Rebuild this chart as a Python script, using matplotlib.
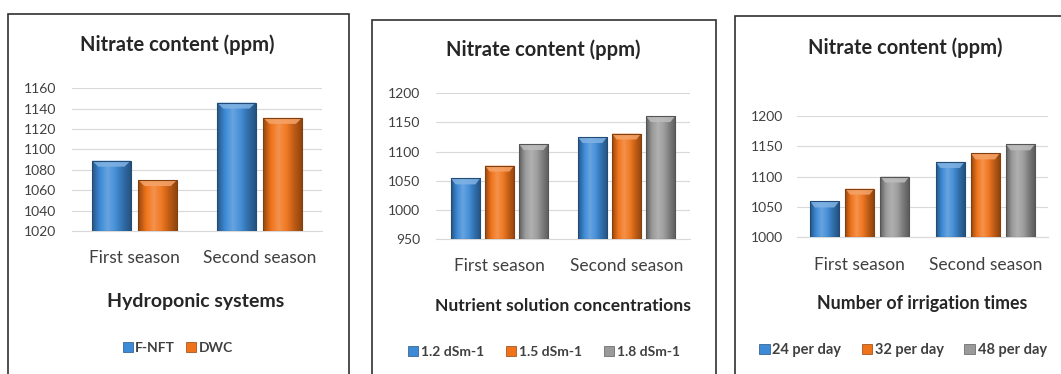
import numpy as np
import matplotlib
matplotlib.use("Agg")
import matplotlib.pyplot as plt
from matplotlib.patches import Rectangle, Polygon
from matplotlib.colors import LinearSegmentedColormap, to_rgb

# ---------------- data ----------------
seasons = ["First season", "Second season"]

p1_series = ["F-NFT", "DWC"]
p1_values = [[1089, 1146], [1070, 1131]]
p1_yticks = [1020, 1040, 1060, 1080, 1100, 1120, 1140, 1160]

p2_series = ["1.2 dSm-1", "1.5 dSm-1", "1.8 dSm-1"]
p2_values = [[1054, 1125], [1076, 1131], [1113, 1161]]
p2_yticks = [950, 1000, 1050, 1100, 1150, 1200]

p3_series = ["24 per day", "32 per day", "48 per day"]
p3_values = [[1059, 1124], [1080, 1138], [1100, 1153]]
p3_yticks = [1000, 1050, 1100, 1150, 1200]

title = "Nitrate content (ppm)"
xlabels = ["Hydroponic systems", "Nutrient solution concentrations", "Number of irrigation times"]

colors = ["#3d8ad6", "#f0731a", "#9a9a9a"]

plt.rcParams['font.family'] = ['Lato', 'DejaVu Sans']

W, H = 1061, 374
fig = plt.figure(figsize=(W / 100, H / 100), dpi=100)


def fx(px):
    return px / W


def fy(py):
    return 1 - py / H


def add_axes(x0, x1, ytop, ybot):
    return fig.add_axes([fx(x0), fy(ybot), fx(x1 - x0), (ybot - ytop) / H])


def shade(c, f):
    r = np.array(to_rgb(c))
    if f < 1:
        return tuple(r * f)
    return tuple(r + (1 - r) * (f - 1))


def gradient_bars(ax, bars, color, bevel_data):
    cmap = LinearSegmentedColormap.from_list(
        "g", [shade(color, 0.62), shade(color, 1.0), shade(color, 1.22),
              shade(color, 1.05), shade(color, 0.8), shade(color, 0.6)])
    prof = np.linspace(0, 1, 64)[None, :]
    for p in bars:
        x0, y0 = p.get_x(), p.get_y()
        w, h = p.get_width(), p.get_height()
        im = ax.imshow(prof, cmap=cmap, extent=[x0, x0 + w, y0, y0 + h],
                       aspect='auto', zorder=3, interpolation='bilinear')
        im.set_clip_path(p)
        # top bevel highlight
        top = y0 + h
        inset = w * 0.16
        bev = Polygon([(x0, top), (x0 + w, top), (x0 + w - inset, top - bevel_data),
                       (x0 + inset, top - bevel_data)], closed=True,
                      facecolor=shade(color, 1.35), edgecolor='none', alpha=0.85, zorder=3.5)
        ax.add_patch(bev)
        p.set_facecolor('none')
        p.set_edgecolor(shade(color, 0.55))
        p.set_linewidth(0.8)
        p.set_zorder(4)


def panel(ax, values, series, yticks, width, step, ypad, ax_h_px):
    n = len(series)
    x = np.arange(len(seasons))
    handles = []
    bevel_data = 6.0 * (yticks[-1] - yticks[0]) / ax_h_px
    for i, (vals, name) in enumerate(zip(values, series)):
        off = (i - (n - 1) / 2) * step
        bars = ax.bar(x + off, np.array(vals) - yticks[0], width,
                      bottom=yticks[0], color=colors[i], label=name, zorder=3)
        gradient_bars(ax, bars, colors[i], bevel_data)
        handles.append(Rectangle((0, 0), 1, 1, facecolor=colors[i],
                                 edgecolor=shade(colors[i], 0.6), linewidth=0.5))
    ax.set_xlim(-0.5, 1.5)
    ax.set_ylim(yticks[0], yticks[-1])
    ax.set_yticks(yticks)
    ax.set_yticklabels([str(t) for t in yticks], fontsize=10, color="#404040")
    ax.set_xticks(x)
    ax.set_xticklabels(seasons, fontsize=12.5, color="#404040")
    ax.tick_params(length=0)
    ax.tick_params(axis='y', pad=ypad)
    ax.tick_params(axis='x', pad=14)
    ax.grid(axis='y', color="#d9d9d9", linewidth=0.8, zorder=0)
    ax.set_axisbelow(True)
    for s in ['top', 'right', 'left']:
        ax.spines[s].set_visible(False)
    ax.spines['bottom'].set_color("#d9d9d9")
    ax.spines['bottom'].set_linewidth(0.8)
    ax.set_facecolor('none')
    return handles


# panel borders
for (x0, x1, y0) in [(8, 349, 14), (372, 716, 20), (735, 1062, 16)]:
    fig.patches.append(Rectangle((fx(x0), fy(H + 5)), fx(x1 - x0), (H + 5 - y0) / H,
                                 transform=fig.transFigure, facecolor='none',
                                 edgecolor="#303030", linewidth=1.2, zorder=0))

ax1 = add_axes(72, 322, 88.3, 231)
h1 = panel(ax1, p1_values, p1_series, p1_yticks, 0.31, 0.37, 11.5, 231 - 88.3)
ax2 = add_axes(436, 690, 93.3, 239)
h2 = panel(ax2, p2_values, p2_series, p2_yticks, 0.23, 0.268, 11.5, 239 - 93.3)
ax3 = add_axes(797, 1048, 115.7, 237.3)
h3 = panel(ax3, p3_values, p3_series, p3_yticks, 0.23, 0.28, 10, 237.3 - 115.7)

# titles
for cx, cy in [(177.5, 45), (543, 50), (905, 48)]:
    fig.text(fx(cx), fy(cy), title, ha='center', va='center',
             fontsize=14.5, fontweight='bold', color="#262626")

# x labels
for lab, cx, cy, fs in zip(xlabels, [196, 563, 922], [302, 306, 303], [14, 12.6, 12.8]):
    fig.text(fx(cx), fy(cy), lab, ha='center', va='center',
             fontsize=fs, fontweight='bold', color="#262626")

# legends
for hs, names, cx, cy, fs, cs in [(h1, p1_series, 178, 348, 10, 0.8),
                                  (h2, p2_series, 544, 352, 10, 1.6),
                                  (h3, p3_series, 903, 350, 10.5, 1.4)]:
    fig.legend(hs, names, loc='center', bbox_to_anchor=(fx(cx), fy(cy)),
               ncol=len(names), frameon=False, handlelength=0.7, handleheight=0.7,
               handletextpad=0.2, columnspacing=cs,
               prop={'size': fs, 'weight': 'bold'}, labelcolor="#404040")

fig.savefig("out.png", dpi=100, facecolor='white')
